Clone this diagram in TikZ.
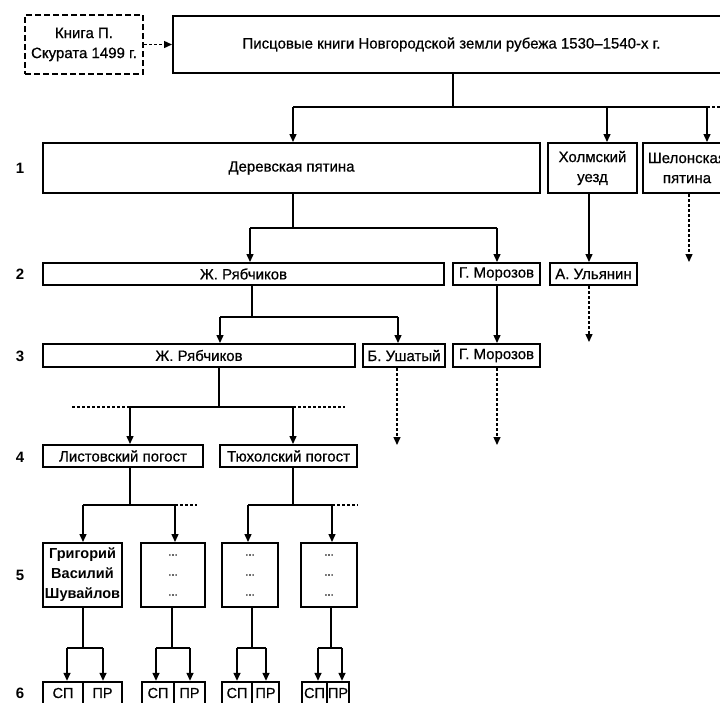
\documentclass[tikz,border=0pt]{standalone}
\usepackage{fontspec}
\setmainfont[FakeBold=0.6]{Liberation Sans}
\newfontfamily\boldface{Liberation Sans Bold}
\usetikzlibrary{arrows.meta}
\begin{document}
\begin{tikzpicture}[x=1pt,y=-1pt,
  box/.style={draw,line width=2pt,inner sep=0pt,minimum height=22pt,align=center,font=\fontsize{15}{20}\selectfont},
  bbox/.style={box,font=\boldface\fontsize{14.5}{20}\selectfont},
  conn/.style={line width=1.4pt},
  arr/.style={conn,-{Triangle[length=8pt,width=7pt]}},
  dots/.style={line width=1.4pt,dash pattern=on 3pt off 2pt},
  darr/.style={dots,-{Triangle[length=8pt,width=7pt]}},
  lvl/.style={font=\boldface\fontsize{15}{16}\selectfont}]
\useasboundingbox (0,0) rectangle (720,702);
\clip (0,0) rectangle (720,702);
% level numbers
\node[lvl] (n1) at (20,168) {1};
\node[lvl] (n2) at (20,274) {2};
\node[lvl] (n3) at (20,356) {3};
\node[lvl] (n4) at (20,457) {4};
\node[lvl] (n5) at (20,575) {5};
\node[lvl] (n6) at (20,693) {6};
% top
\node[box,dash pattern=on 6pt off 3pt,minimum width=118pt,minimum height=59pt] (skr) at (84,44.5) {Книга П.\\Скурата 1499 г.};
\node[box,minimum width=557pt,minimum height=57pt] (main) at (451.5,44.5) {Писцовые книги Новгородской земли рубежа 1530–1540-х г.};
% level 1
\node[box,minimum width=497pt,minimum height=50pt] (der) at (291.5,168) {Деревская пятина};
\node[box,minimum width=89pt,minimum height=50pt] (holm) at (592.5,168) {Холмский\\уезд};
\node[box,minimum width=88pt,minimum height=50pt] (shel) at (687,168) {Шелонская\\пятина};
% level 2
\node[box,minimum width=401pt] (r2) at (243.5,274) {Ж. Рябчиков};
\node[box,minimum width=87pt] (m2) at (496.5,274) {Г. Морозов};
\node[box,minimum width=87pt] (u2) at (593.5,274) {А. Ульянин};
% level 3
\node[box,minimum width=312pt,minimum height=23pt] (r3) at (199,355.5) {Ж. Рябчиков};
\node[box,minimum width=82pt,minimum height=23pt] (ush3) at (404,355.5) {Б. Ушатый};
\node[box,minimum width=87pt,minimum height=23pt] (m3) at (496.5,355.5) {Г. Морозов};
% level 4
\node[box,minimum width=160pt] (l4) at (123,456) {Листовский погост};
\node[box,minimum width=137pt] (t4) at (288.5,456) {Тюхолский погост};
% level 5
\node[bbox,minimum width=79pt,minimum height=64pt] (p5a) at (82.5,575) {Григорий\\Василий\\Шувайлов};
\tikzset{dbox/.style={box,minimum height=64pt,font=\fontsize{11}{20}\selectfont}}
\node[dbox,minimum width=64pt] (p5b) at (173,575) {...\\...\\...};
\node[dbox,minimum width=56pt] (p5c) at (250,575) {...\\...\\...};
\node[dbox,minimum width=56pt] (p5d) at (329,575) {...\\...\\...};
% level 6
\tikzset{six/.style={box,line width=2.4pt,minimum height=22pt,font=\fontsize{14.5}{16}\selectfont}}
\node[six,minimum width=40pt] (sp1) at (63,693) {СП};
\node[six,minimum width=39pt] (pr1) at (102.5,693) {ПР};
\node[six,minimum width=32pt] (sp2) at (158,693) {СП};
\node[six,minimum width=31pt] (pr2) at (189.5,693) {ПР};
\node[six,minimum width=30pt] (sp3) at (237,693) {СП};
\node[six,minimum width=27pt] (pr3) at (265.5,693) {ПР};
\node[six,minimum width=25pt] (sp4) at (314.5,693) {СП};
\node[six,minimum width=22pt] (pr4) at (338,693) {ПР};
% connectors top
\draw[darr] (skr.east) -- (main.west);
\coordinate (j0) at (453,107);
\coordinate (a1) at (293,107);
\coordinate (a2) at (607,107);
\coordinate (a3) at (707,107);
\coordinate (a4) at (722,107);
\draw[conn] (main.south -| j0) -- (j0);
\draw[conn] (a1) -- (a3);
\draw[dots] (a3) -- (a4);
\draw[arr] (a1) -- (a1 |- der.north);
\draw[arr] (a2) -- (a2 |- holm.north);
\draw[arr] (a3) -- (a3 |- shel.north);
\coordinate (s1) at (689,262);
\draw[darr] (s1 |- shel.south) -- (s1);
% level 1 -> 2
\coordinate (b0) at (293,228);
\coordinate (b1) at (250,228);
\coordinate (b2) at (497,228);
\draw[conn] (der.south -| b0) -- (b0);
\draw[conn] (b1) -- (b2);
\draw[arr] (b1) -- (b1 |- r2.north);
\draw[arr] (b2) -- (b2 |- m2.north);
\coordinate (c0) at (589,0);
\draw[arr] (holm.south -| c0) -- (u2.north -| c0);
\coordinate (c1) at (589,342);
\draw[darr] (u2.south -| c1) -- (c1);
\draw[arr] (m2.south -| b2) -- (m3.north -| b2);
% level 2 -> 3
\coordinate (d0) at (252,317);
\coordinate (d1) at (220,317);
\coordinate (d2) at (398,317);
\draw[conn] (r2.south -| d0) -- (d0);
\draw[conn] (d1) -- (d2);
\draw[arr] (d1) -- (d1 |- r3.north);
\draw[arr] (d2) -- (d2 |- ush3.north);
\coordinate (e1) at (397,445);
\coordinate (e2) at (497,445);
\draw[darr] (ush3.south -| e1) -- (e1);
\draw[darr] (m3.south -| e2) -- (e2);
% level 3 -> 4
\coordinate (f0) at (219,407);
\coordinate (f1) at (130,407);
\coordinate (f2) at (293,407);
\coordinate (f3) at (72,407);
\coordinate (f4) at (345,407);
\draw[conn] (r3.south -| f0) -- (f0);
\draw[conn] (f1) -- (f2);
\draw[dots] (f3) -- (f1);
\draw[dots] (f2) -- (f4);
\draw[arr] (f1) -- (f1 |- l4.north);
\draw[arr] (f2) -- (f2 |- t4.north);
% level 4 -> 5
\coordinate (g0) at (130,505);
\coordinate (g1) at (83,505);
\coordinate (g2) at (175,505);
\coordinate (g3) at (197,505);
\draw[conn] (l4.south -| g0) -- (g0);
\draw[conn] (g1) -- (g2);
\draw[dots] (g2) -- (g3);
\draw[arr] (g1) -- (g1 |- p5a.north);
\draw[arr] (g2) -- (g2 |- p5b.north);
\coordinate (h0) at (293,505);
\coordinate (h1) at (248,505);
\coordinate (h2) at (332,505);
\coordinate (h3) at (358,505);
\draw[conn] (t4.south -| h0) -- (h0);
\draw[conn] (h1) -- (h2);
\draw[dots] (h2) -- (h3);
\draw[arr] (h1) -- (h1 |- p5c.north);
\draw[arr] (h2) -- (h2 |- p5d.north);
% level 5 -> 6
\coordinate (k0) at (83,648);
\coordinate (k1) at (67,648);
\coordinate (k2) at (103,648);
\draw[conn] (p5a.south -| k0) -- (k0);
\draw[conn] (k1) -- (k2);
\draw[arr] (k1) -- (k1 |- sp1.north);
\draw[arr] (k2) -- (k2 |- pr1.north);
\coordinate (l0) at (172,648);
\coordinate (l1) at (156,648);
\coordinate (l2) at (190,648);
\draw[conn] (p5b.south -| l0) -- (l0);
\draw[conn] (l1) -- (l2);
\draw[arr] (l1) -- (l1 |- sp2.north);
\draw[arr] (l2) -- (l2 |- pr2.north);
\coordinate (m0) at (252,648);
\coordinate (m1) at (237,648);
\coordinate (m2c) at (266,648);
\draw[conn] (p5c.south -| m0) -- (m0);
\draw[conn] (m1) -- (m2c);
\draw[arr] (m1) -- (m1 |- sp3.north);
\draw[arr] (m2c) -- (m2c |- pr3.north);
\coordinate (q0) at (331,648);
\coordinate (q1) at (318,648);
\coordinate (q2) at (342,648);
\draw[conn] (p5d.south -| q0) -- (q0);
\draw[conn] (q1) -- (q2);
\draw[arr] (q1) -- (q1 |- sp4.north);
\draw[arr] (q2) -- (q2 |- pr4.north);
\end{tikzpicture}
\end{document}
